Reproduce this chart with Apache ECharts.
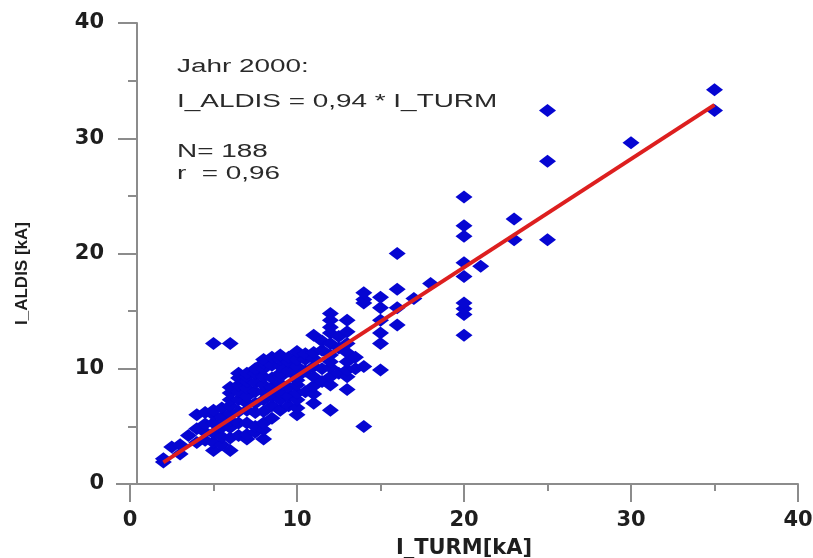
<!DOCTYPE html>
<html><head><meta charset="utf-8">
<script src="https://cdn.jsdelivr.net/npm/echarts@6/dist/echarts.min.js"></script>
<style>html,body{margin:0;padding:0;background:#fff}#c{width:813px;height:558px}</style>
</head><body><div id="c"></div>
<script>
// I_TURM column positions (kA) and the I_ALDIS values (kA) read at each of them
const turmColumns = [2, 2.5, 3, 3.5, 4, 4.5, 5, 5.5, 6, 6.5, 7, 7.5, 8, 8.5, 9, 9.5, 10, 10.5, 11, 11.5, 12, 12.5, 13, 13.5, 14, 15, 16, 17, 18, 20, 21, 23, 25, 30, 35];
const aldisByColumn = [
  [1.9, 2.2],
  [3.2],
  [2.6, 3.4],
  [4.2],
  [3.6, 4.8, 6.0],
  [3.8, 4.5, 5.2, 6.2],
  [2.9, 3.6, 4.4, 5.3, 6.0, 6.4, 12.2],
  [3.4, 4.1, 4.9, 5.8, 6.6],
  [2.9, 4.0, 4.9, 5.5, 6.1, 6.8, 7.3, 7.9, 8.4, 12.2],
  [4.2, 5.3, 6.3, 7.3, 8.0, 8.6, 9.2, 9.6],
  [3.9, 4.3, 5.3, 6.4, 7.0, 7.6, 8.3, 8.9, 9.3, 9.6],
  [4.5, 5.0, 6.2, 7.0, 8.0, 8.8, 9.6, 10.0],
  [3.9, 4.7, 5.3, 6.3, 7.3, 8.0, 8.6, 9.3, 10.0, 10.5, 10.8],
  [5.7, 6.8, 7.6, 8.4, 9.2, 10.3, 11.0],
  [6.4, 7.3, 7.9, 8.7, 9.3, 9.6, 10.2, 10.8, 11.2],
  [6.8, 7.6, 8.4, 9.8, 10.6, 11.0],
  [6.0, 6.6, 7.3, 7.9, 8.6, 9.0, 9.3, 10.2, 10.8, 11.5],
  [8.0, 9.8, 10.8, 11.3],
  [7.0, 7.8, 8.5, 9.3, 10.2, 10.9, 11.4, 12.9],
  [8.9, 10.0, 11.6, 12.4],
  [6.4, 8.6, 9.3, 10.1, 10.6, 11.2, 12.2, 13.1, 13.6, 14.2, 14.8],
  [9.6, 11.8, 12.8],
  [8.2, 9.3, 9.9, 10.6, 11.4, 12.2, 13.2, 14.2],
  [10.0, 11.0],
  [5.0, 10.2, 15.7, 16.0, 16.6],
  [9.9, 12.2, 13.1, 14.2, 15.3, 16.2],
  [13.8, 15.3, 16.9, 20.0],
  [16.1],
  [17.4],
  [12.9, 14.7, 15.2, 15.7, 18.0, 19.2, 21.5, 22.4, 24.9],
  [18.9],
  [21.2, 23.0],
  [21.2, 28.0, 32.4],
  [29.6],
  [32.4, 34.2]
];
// regression: I_ALDIS = 0.94 * I_TURM, drawn over the measured range
const fitSlope = 0.94;
const fitTurmRange = [2, 35];
const axisMin = 0, axisMax = 40, axisStep = 10;
const xTitle = 'I_TURM[kA]';
const yTitle = 'I_ALDIS [kA]';
const annotationLines = ['Jahr 2000:', 'I_ALDIS = 0,94 * I_TURM', 'N= 188', 'r  = 0,96'];

const scatterData = [];
turmColumns.forEach((x, i) => aldisByColumn[i].forEach(y => scatterData.push([x, y])));
const fitData = fitTurmRange.map(x => [x, +(fitSlope * x).toFixed(3)]);

const axisColor = '#8c8c8c';
const labelFont = { fontFamily: 'DejaVu Sans', fontWeight: 'bold', fontSize: 21, color: '#1e1e1e' };
const annY = [67, 102, 152, 174];

const chart = echarts.init(document.getElementById('c'), null, { renderer: 'canvas' });
chart.setOption({
  animation: false,
  backgroundColor: '#ffffff',
  grid: { left: 130, right: 15, top: 23, bottom: 74, containLabel: false, outerBoundsMode: 'none' },
  xAxis: {
    type: 'value', min: axisMin, max: axisMax, interval: axisStep,
    name: xTitle, nameLocation: 'middle', nameGap: 54,
    nameTextStyle: { fontFamily: 'DejaVu Sans', fontWeight: 'bold', fontSize: 21, color: '#1e1e1e' },
    axisLine: { lineStyle: { color: axisColor, width: 2 } },
    axisTick: { length: 18, lineStyle: { color: axisColor, width: 2 } },
    minorTick: { show: true, splitNumber: 2, length: 7, lineStyle: { color: axisColor, width: 2 } },
    splitLine: { show: false },
    axisLabel: Object.assign({ margin: 26 }, labelFont)
  },
  yAxis: {
    type: 'value', min: axisMin, max: axisMax, interval: axisStep, offset: -7,
    name: yTitle, nameLocation: 'middle', nameGap: 106, nameRotate: 90,
    nameTextStyle: { fontFamily: 'Liberation Sans', fontWeight: 'bold', fontSize: 17, color: '#1e1e1e', padding: [0, 40, 0, 0] },
    axisLine: { lineStyle: { color: axisColor, width: 2 } },
    axisTick: { length: 19, lineStyle: { color: axisColor, width: 2 } },
    minorTick: { show: true, splitNumber: 2, length: 9, lineStyle: { color: axisColor, width: 2 } },
    splitLine: { show: false },
    axisLabel: Object.assign({ margin: 33 }, labelFont)
  },
  graphic: [
    { type: 'line', shape: { x1: 116, y1: 484, x2: 131, y2: 484 }, style: { stroke: axisColor, lineWidth: 2 } }
  ].concat(annotationLines.map((t, i) => ({
    type: 'text', x: 177, y: annY[i], scaleX: 1.55,
    style: { text: t, font: '18px "Liberation Sans"', fill: '#2a2a2a', align: 'left', verticalAlign: 'middle' }
  }))),
  series: [
    {
      type: 'scatter', data: scatterData, symbol: 'diamond', symbolSize: [17, 13],
      itemStyle: { color: '#0606d2', opacity: 1 }, z: 2
    },
    {
      type: 'line', data: fitData, symbol: 'none', z: 3,
      lineStyle: { color: '#dd1f1f', width: 4 }
    }
  ]
});
</script></body></html>
